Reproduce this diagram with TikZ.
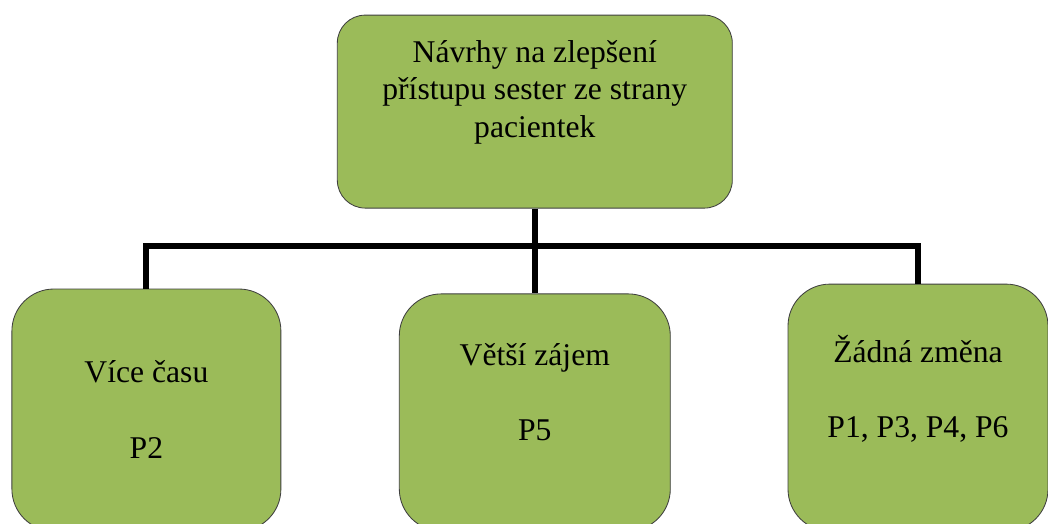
\documentclass[tikz,border=0pt]{standalone}
\usepackage{fontspec}
\setmainfont{Liberation Serif}
\newfontfamily\tnr{Liberation Serif}
\usetikzlibrary{positioning}
\definecolor{olive}{HTML}{9BBB59}
\definecolor{rim}{HTML}{3F3F3F}

\begin{document}
\begin{tikzpicture}[
    box/.style={draw=rim, fill=olive, line width=0.6pt, inner sep=0pt},
    txt/.style={font=\tnr\fontsize{22.5}{26.5}\selectfont, align=center, inner sep=0pt, anchor=base},
    conn/.style={line width=0.15cm, line join=miter, draw=black}
]
    \useasboundingbox (0,0) rectangle (26.2,-13.1);
    \clip (0,0) rectangle (26.2,-13.1);

    % top box
    \node[box, rounded corners=0.7cm, minimum width=9.875cm, minimum height=4.825cm] (navrhy) at (13.37,-2.79) {};
    \node[txt] (navrhytxt) at (13.37,-3.425) {Návrhy na zlepšení\\přístupu sester ze strany\\pacientek};

    % bottom boxes
    \node[box, rounded corners=1.05cm, minimum width=6.725cm, minimum height=6.05cm] (cas) at (3.66,-10.25) {};
    \node[box, rounded corners=1.05cm, minimum width=6.775cm, minimum height=5.925cm] (zajem) at (13.37,-10.31) {};
    \node[box, rounded corners=1.05cm, minimum width=6.5cm, minimum height=6.175cm] (zmena) at (22.95,-10.19) {};

    % labels
    \node[txt] (castxt) at (3.66,-9.55) {Více času};
    \node[txt] (casp) at (3.66,-11.45) {P2};
    \node[txt] (zajemtxt) at (13.37,-9.125) {Větší zájem};
    \node[txt] (zajemp) at (13.37,-11.0) {P5};
    \node[txt] (zmenatxt) at (22.95,-9.05) {Žádná změna};
    \node[txt] (zmenap) at (22.95,-10.925) {P1, P3, P4, P6};

    % connectors
    \coordinate (bus) at (13.37,-6.16);
    \draw[conn] (navrhy.south) -- (zajem.north);
    \draw[conn] (cas.north) |- (bus) -| (zmena.north);
\end{tikzpicture}
\end{document}
